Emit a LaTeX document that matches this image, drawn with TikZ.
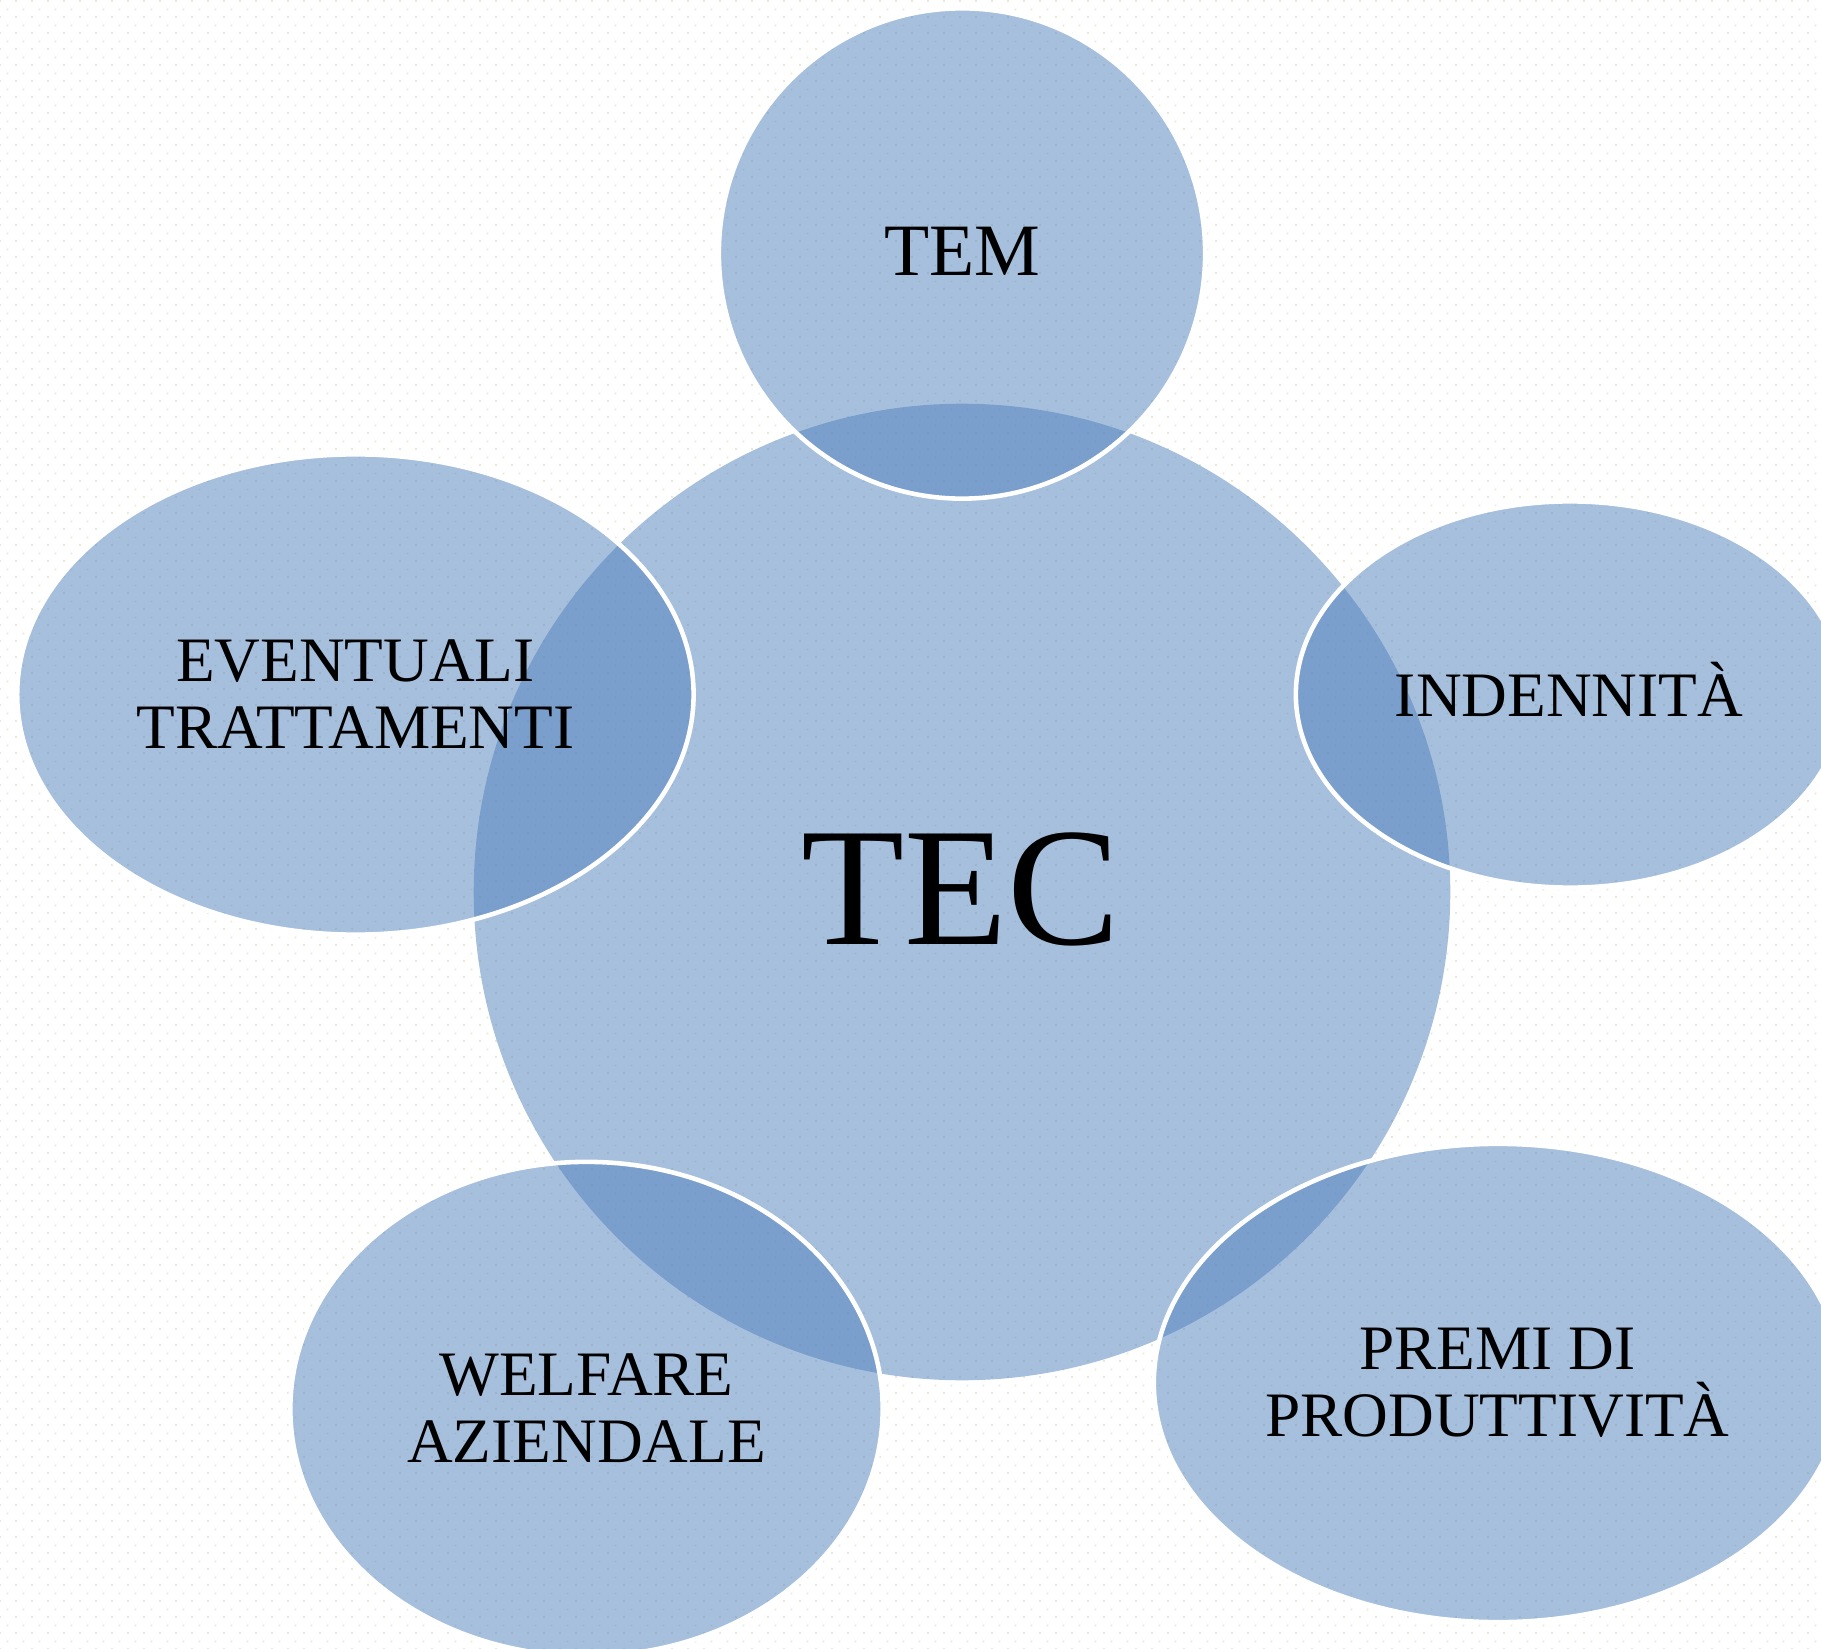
\documentclass[tikz,border=0pt]{standalone}
\usepackage{fontspec}
\setmainfont{Liberation Serif}
\usetikzlibrary{shapes.geometric,patterns.meta}
\definecolor{ppblue}{HTML}{4F81BD}
\definecolor{dotc}{HTML}{E8E8D6}
\tikzdeclarepattern{
  name=ppdots,
  type=uncolored,
  bounding box={(0cm,0cm) and (0.16cm,0.16cm)},
  tile size={(0.16cm,0.16cm)},
  code={
    \pgfpathrectangle{\pgfpoint{0cm}{0cm}}{\pgfpoint{0.02cm}{0.02cm}}
    \pgfpathrectangle{\pgfpoint{0.08cm}{0.08cm}}{\pgfpoint{0.02cm}{0.02cm}}
    \pgfusepath{fill}
  }
}
\begin{document}
\begin{tikzpicture}[x=0.01cm,y=-0.01cm,
  hub/.style={ellipse, fill=ppblue, fill opacity=0.5, draw=none, inner sep=0pt, outer sep=0pt},
  bubble/.style={ellipse, fill=ppblue, fill opacity=0.5, draw=white, draw opacity=1, line width=1.3pt, inner sep=0pt, outer sep=0pt},
  lbl/.style={text=black, align=center, inner sep=0pt, outer sep=0pt, font=\fontsize{18pt}{19pt}\selectfont}]
\useasboundingbox (0,0) rectangle (1821,1649);
\clip (0,0) rectangle (1821,1649);
% dotted background
\fill[white] (0,0) rectangle (1821,1649);
\fill[pattern=ppdots, pattern color=dotc] (0,0) rectangle (1821,1649);
% central circle
\node[hub, minimum width=9.76cm, minimum height=9.76cm] (tec) at (962,892) {};
% satellites
\node[bubble, minimum width=4.86cm, minimum height=4.90cm] (tem) at (962,253.5) {};
\node[bubble, minimum width=5.48cm, minimum height=3.86cm] (ind) at (1570,694.5) {};
\node[bubble, minimum width=6.88cm, minimum height=4.78cm] (pre) at (1498,1383) {};
\node[bubble, minimum width=5.92cm, minimum height=4.94cm] (wel) at (586.5,1409) {};
\node[bubble, minimum width=6.76cm, minimum height=4.80cm] (eve) at (355.4,694.5) {};
% labels
\node[lbl, anchor=base, font=\fontsize{48pt}{50pt}\selectfont] (tectxt) at (961,944) {TEC};
\node[lbl, anchor=base, font=\fontsize{21pt}{22pt}\selectfont] (temtxt) at (962,276) {TEM};
\node[lbl, anchor=base] (indtxt) at (1569,716) {INDENNITÀ};
\node[lbl] (evetxt) at (355.4,694.5) {EVENTUALI\\TRATTAMENTI};
\node[lbl] (weltxt) at (586.5,1408) {WELFARE\\AZIENDALE};
\node[lbl] (pretxt) at (1497.5,1382.5) {PREMI DI\\PRODUTTIVITÀ};
\end{tikzpicture}
\end{document}
